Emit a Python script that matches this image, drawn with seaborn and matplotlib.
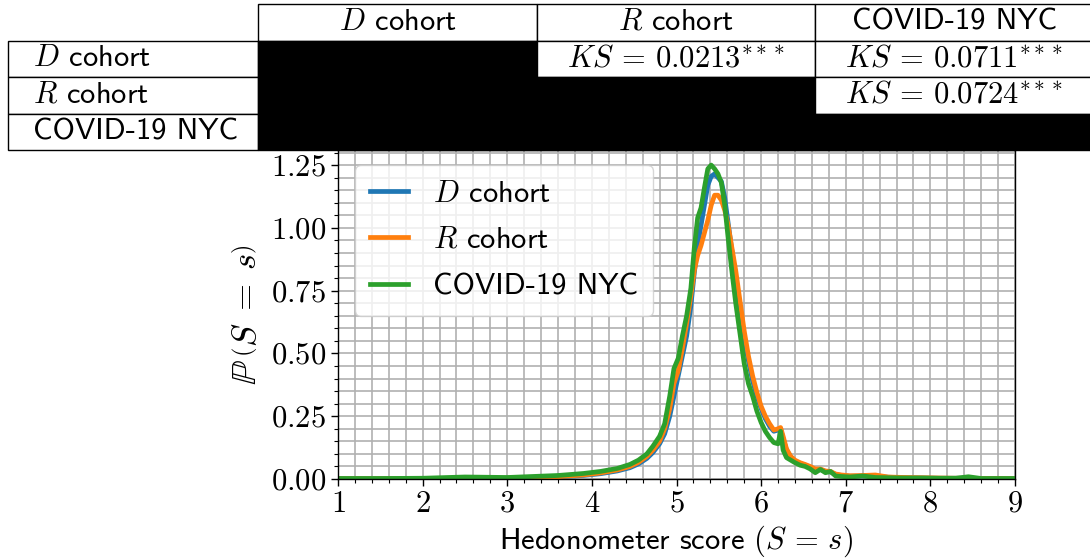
import numpy as np
import pandas as pd
import matplotlib
matplotlib.use("Agg")
import matplotlib.pyplot as plt
import seaborn as sns
from matplotlib.ticker import MultipleLocator, FuncFormatter

# ---------------- data ----------------
scores = [1.0, 1.5, 2.0, 2.5, 3.0, 3.3, 3.6, 3.9, 4.1, 4.3, 4.45, 4.55, 4.65, 4.72,
          4.8, 4.86, 4.92, 4.97, 5.02, 5.07, 5.12, 5.17, 5.21, 5.25, 5.29, 5.33,
          5.37, 5.41, 5.45, 5.49, 5.53, 5.57, 5.61, 5.65, 5.70, 5.75, 5.80, 5.85,
          5.90, 5.95, 6.00, 6.05, 6.10, 6.15, 6.20, 6.23, 6.26, 6.30, 6.35, 6.40,
          6.46, 6.52, 6.58, 6.64, 6.70, 6.76, 6.82, 6.88, 6.95, 7.05, 7.2, 7.35,
          7.5, 7.7, 7.9, 8.1, 8.3, 8.45, 8.6, 8.8, 9.0]

d_cohort = [0.001, 0.001, 0.001, 0.002, 0.003, 0.005, 0.008, 0.014, 0.021, 0.032,
            0.045, 0.060, 0.082, 0.105, 0.14, 0.18, 0.25, 0.33, 0.41, 0.49, 0.57,
            0.69, 0.82, 0.93, 1.01, 1.09, 1.17, 1.205, 1.215, 1.20, 1.185, 1.12,
            1.02, 0.92, 0.80, 0.68, 0.56, 0.47, 0.39, 0.33, 0.28, 0.24, 0.21, 0.19,
            0.195, 0.20, 0.16, 0.115, 0.088, 0.072, 0.062, 0.055, 0.047, 0.037,
            0.038, 0.030, 0.028, 0.018, 0.014, 0.011, 0.012, 0.012, 0.007, 0.005,
            0.004, 0.003, 0.003, 0.003, 0.002, 0.002, 0.001]

r_cohort = [0.001, 0.001, 0.001, 0.002, 0.003, 0.005, 0.009, 0.016, 0.024, 0.036,
            0.050, 0.066, 0.090, 0.115, 0.15, 0.20, 0.28, 0.38, 0.43, 0.52, 0.62,
            0.73, 0.83, 0.89, 0.93, 0.98, 1.03, 1.09, 1.13, 1.13, 1.11, 1.07,
            1.01, 0.93, 0.83, 0.71, 0.59, 0.49, 0.41, 0.345, 0.29, 0.25, 0.22,
            0.195, 0.20, 0.205, 0.17, 0.12, 0.09, 0.075, 0.065, 0.058, 0.050,
            0.040, 0.040, 0.032, 0.030, 0.020, 0.016, 0.013, 0.014, 0.016, 0.008,
            0.006, 0.005, 0.004, 0.003, 0.003, 0.002, 0.002, 0.001]

covid_nyc = [0.002, 0.002, 0.003, 0.008, 0.006, 0.010, 0.014, 0.022, 0.030, 0.042,
             0.058, 0.075, 0.10, 0.13, 0.17, 0.22, 0.33, 0.44, 0.48, 0.57, 0.65,
             0.76, 0.92, 1.04, 1.08, 1.16, 1.235, 1.25, 1.235, 1.215, 1.18, 1.09,
             0.96, 0.84, 0.70, 0.58, 0.46, 0.38, 0.33, 0.27, 0.225, 0.19, 0.165,
             0.145, 0.14, 0.19, 0.115, 0.085, 0.075, 0.065, 0.055, 0.050, 0.040,
             0.025, 0.038, 0.025, 0.030, 0.012, 0.010, 0.008, 0.012, 0.006, 0.005,
             0.004, 0.004, 0.003, 0.003, 0.009, 0.002, 0.002, 0.002]

series_names = ["$D$ cohort", "$R$ cohort", "COVID-19 NYC"]
series_colors = ["#1f77b4", "#ff7f0e", "#2ca02c"]

ks_results = {(0, 1): r"$KS\,=\,0.0213^{***}$",
              (0, 2): r"$KS\,=\,0.0711^{***}$",
              (1, 2): r"$KS\,=\,0.0724^{***}$"}

x_ticks = [1, 2, 3, 4, 5, 6, 7, 8, 9]
y_ticks = [0.0, 0.25, 0.50, 0.75, 1.00, 1.25]

# ---------------- style ----------------
plt.rcParams["font.family"] = ["cmss10", "DejaVu Sans"]
plt.rcParams["mathtext.fontset"] = "cm"
plt.rcParams["axes.unicode_minus"] = False
plt.rcParams["axes.formatter.use_mathtext"] = True

FS = 22

df = pd.DataFrame({
    "score": scores * 3,
    "density": d_cohort + r_cohort + covid_nyc,
    "series": [n for n in series_names for _ in scores],
})

fig = plt.figure(figsize=(10.9, 5.6), dpi=100)
ax = fig.add_axes([338 / 1090, 81 / 560, 677 / 1090, 329 / 560])

sns.lineplot(data=df, x="score", y="density", hue="series",
             hue_order=series_names, palette=series_colors,
             linewidth=3.4, estimator=None, sort=False, ax=ax)

ax.set_xlim(1, 9)
ax.set_ylim(0, 1.31)
ax.set_xticks(x_ticks)
ax.set_yticks(y_ticks)
ax.xaxis.set_minor_locator(MultipleLocator(0.2))
ax.yaxis.set_minor_locator(MultipleLocator(0.05))
ax.xaxis.set_major_formatter(FuncFormatter(lambda v, p: f"${v:.0f}$"))
ax.yaxis.set_major_formatter(FuncFormatter(lambda v, p: f"${v:.2f}$"))
ax.tick_params(axis="both", which="major", labelsize=FS, length=5, width=1)
ax.tick_params(axis="both", which="minor", length=3, width=0.8)
ax.grid(True, which="both", color="#b0b0b0", linewidth=1.2)
ax.set_axisbelow(True)
for s in ax.spines.values():
    s.set_color("black")
    s.set_linewidth(1.0)

ax.set_xlabel(r"Hedonometer score $(S\,=\,s)$", fontsize=FS)
ax.set_ylabel(r"$\mathbb{P}\,\left(S\;=\;s\right)$", fontsize=25, labelpad=6)

handles, labels = ax.get_legend_handles_labels()
ax.legend(handles, labels, loc="upper left", bbox_to_anchor=(17 / 677, 1 - 15 / 329),
          borderaxespad=0, fontsize=FS, handlelength=1.25, handletextpad=0.8,
          labelspacing=0.62, borderpad=0.5)

# ---------------- comparison table ----------------
tax = fig.add_axes([8 / 1090, 410 / 560, 1085 / 1090, 146 / 560])
tax.axis("off")
n = len(series_names)
cell_text = [[""] + series_names]
cell_colors = [["white"] * (n + 1)]
for i in range(n):
    row = [series_names[i]]
    colors = ["white"]
    for j in range(n):
        if (i, j) in ks_results:
            row.append(ks_results[(i, j)])
            colors.append("white")
        else:
            row.append("")
            colors.append("black")
    cell_text.append(row)
    cell_colors.append(colors)

tbl = tax.table(cellText=cell_text, cellColours=cell_colors,
                colWidths=[250, 279, 278, 278], cellLoc="center",
                bbox=[0, 0, 1, 1])
tbl.auto_set_font_size(False)
tbl.set_fontsize(FS)
for (r, c), cell in tbl.get_celld().items():
    cell.set_edgecolor("black")
    cell.set_linewidth(1.0)
    if r == 0 and c == 0:
        cell.visible_edges = ""
    if c == 0 and r > 0:
        cell.get_text().set_horizontalalignment("left")
        cell._loc = "left"

fig.savefig("out.png", dpi=100)
